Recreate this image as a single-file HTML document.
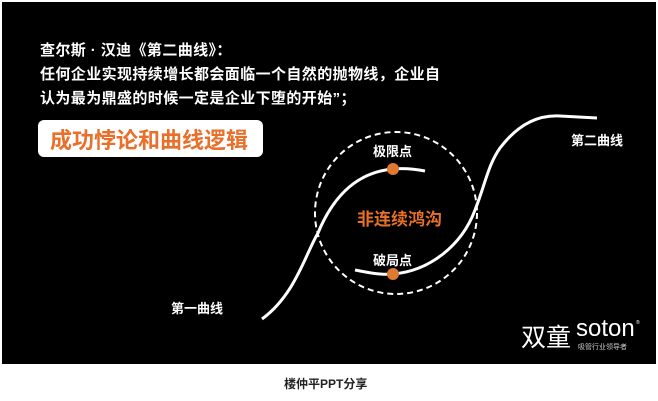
<!DOCTYPE html>
<html><head><meta charset="utf-8"><style>
body{margin:0;width:658px;height:401px;background:#fff;overflow:hidden;font-family:"Liberation Sans","Noto Sans CJK SC",sans-serif;}
.bg{position:absolute;left:2px;top:2px;width:654px;height:362px;background:#000;}
.t{position:absolute;color:#fff;font-weight:bold;font-size:14px;white-space:nowrap;}
.m{font-size:15px;letter-spacing:0.4px;}
</style></head><body>
<div class="bg"></div>
<div class="t m" style="left:40px;top:39px">查尔斯 · 汉迪《第二曲线》：</div>
<div class="t m" style="left:40px;top:63px">任何企业实现持续增长都会面临一个自然的抛物线，企业自</div>
<div class="t m" style="left:40px;top:87px">认为最为鼎盛的时候一定是企业下堕的开始”；</div>
<div style="position:absolute;left:38px;top:120px;width:225px;height:37px;background:#fff;border-radius:6px;"></div>
<div class="t" style="left:50px;top:123px;color:#e8702a;font-size:22px;">成功悖论和曲线逻辑</div>
<svg width="658" height="401" style="position:absolute;left:0;top:0">
<circle cx="396" cy="213" r="81" fill="none" stroke="#fff" stroke-width="2" stroke-dasharray="6,4"/>
<path d="M262,319 C295,295 305,255 318,233 C335,192 360,172 393,169 C405,168 415,169 425,171" fill="none" stroke="#fff" stroke-width="3"/>
<path d="M355,270 C370,273 380,275 393,274 C430,271 462,245 475,210 C485,185 488,165 500,148 C520,122 540,115 560,116 L597,118" fill="none" stroke="#fff" stroke-width="3"/>
<circle cx="393" cy="169" r="6" fill="#e07a30"/>
<circle cx="393" cy="274" r="6" fill="#e07a30"/>
</svg>
<div class="t" style="left:373px;top:141px;font-size:13px">极限点</div>
<div class="t" style="left:373px;top:250px;font-size:13px">破局点</div>
<div class="t" style="left:357px;top:205px;font-size:17px;color:#e8702a">非连续鸿沟</div>
<div class="t" style="left:571px;top:130px;font-size:13px">第二曲线</div>
<div class="t" style="left:171px;top:298px;font-size:13px">第一曲线</div>
<div class="t" style="left:521px;top:318px;font-size:25px;font-weight:normal">双童</div>
<div class="t" style="left:576px;top:315px;font-size:24px;font-weight:normal">soton</div>
<div class="t" style="left:578px;top:342px;font-size:7px;font-weight:normal;color:#ccc">吸管行业领导者</div>
<div class="t" style="left:636px;top:320px;font-size:5px;font-weight:normal">®</div>
<div class="t" style="left:284px;top:375px;font-size:12px;color:#222">楼仲平PPT分享</div>
</body></html>
